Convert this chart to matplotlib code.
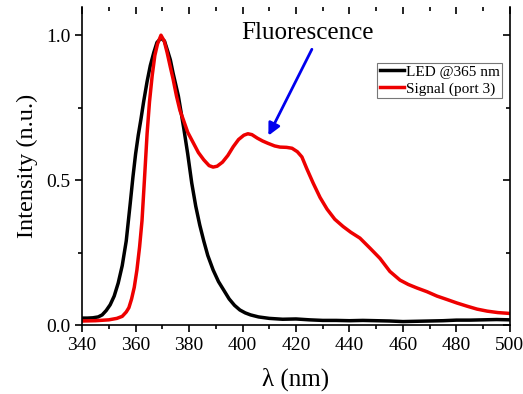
import numpy as np
import matplotlib.pyplot as plt
from matplotlib.ticker import MultipleLocator

plt.rcParams['font.family'] = ['Liberation Serif', 'DejaVu Serif']

# LED @365 nm spectrum
led_wl = [340, 342, 344, 346, 347.5, 349, 350.5, 352, 353.5, 355, 356.5, 358, 359, 360,
          361, 362, 363, 364.3, 365.5, 366.8, 368, 369.5, 370.8, 372, 373, 374, 376, 378,
          379.5, 381, 382.5, 384, 385.5, 387, 389, 391, 393, 395, 397, 399, 401, 403, 406,
          410, 415, 420, 425, 430, 435, 440, 445, 450, 455, 460, 465, 470, 475, 480, 485,
          490, 495, 500]
led_int = [0.024, 0.024, 0.025, 0.028, 0.035, 0.05, 0.07, 0.10, 0.145, 0.205, 0.29, 0.42,
           0.51, 0.59, 0.655, 0.71, 0.77, 0.84, 0.895, 0.94, 0.975, 0.99, 0.98, 0.945,
           0.915, 0.87, 0.79, 0.68, 0.59, 0.49, 0.41, 0.345, 0.29, 0.24, 0.19, 0.15, 0.12,
           0.09, 0.068, 0.052, 0.042, 0.035, 0.028, 0.023, 0.02, 0.021, 0.018, 0.016,
           0.016, 0.015, 0.016, 0.015, 0.014, 0.012, 0.013, 0.014, 0.015, 0.017, 0.017,
           0.018, 0.019, 0.018]

# Signal (port 3) spectrum
sig_wl = [340, 345, 350, 353, 355, 356.5, 357.5, 358.5, 359.5, 360.5, 361.5, 362.4, 363.3,
          364.3, 365.2, 366.2, 367.2, 368.2, 369.5, 370.7, 371.8, 373, 374, 375.3, 376.6,
          377.8, 379.5, 381.5, 383.5, 385.5, 387.5, 389, 390.5, 392.5, 394.5, 396.5, 398.5,
          400.5, 402, 403.5, 405.5, 407.5, 409.5, 412, 414, 416.5, 418.5, 420.5, 422.2,
          424, 426.4, 429, 431.6, 434.5, 437.6, 440.5, 443.9, 447.7, 451.4, 455.1, 458.9,
          462, 465.2, 469, 472.7, 476.5, 480.2, 484, 487.7, 491.5, 495.5, 500]
sig_int = [0.014, 0.015, 0.018, 0.023, 0.03, 0.045, 0.06, 0.09, 0.13, 0.19, 0.27, 0.36,
           0.5, 0.66, 0.77, 0.86, 0.93, 0.97, 1.0, 0.98, 0.94, 0.89, 0.85, 0.79, 0.74,
           0.71, 0.665, 0.63, 0.595, 0.57, 0.55, 0.545, 0.548, 0.562, 0.585, 0.615, 0.64,
           0.655, 0.66, 0.657, 0.645, 0.635, 0.627, 0.618, 0.614, 0.613, 0.61, 0.598, 0.58,
           0.54, 0.49, 0.44, 0.40, 0.365, 0.34, 0.32, 0.30, 0.265, 0.23, 0.185, 0.155,
           0.14, 0.128, 0.115, 0.10, 0.088, 0.076, 0.065, 0.055, 0.048, 0.043, 0.04]

fig = plt.figure(figsize=(5.23, 3.94), dpi=100)
ax = fig.add_axes([0.157, 0.175, 0.818, 0.807])

ax.plot(led_wl, led_int, color='black', lw=2.5, solid_joinstyle='round',
        label='LED @365 nm')
ax.plot(sig_wl, sig_int, color='#ee0000', lw=2.5, solid_joinstyle='round',
        label='Signal (port 3)')

ax.set_xlim(340, 500)
ax.set_ylim(0, 1.097)
ax.xaxis.set_major_locator(MultipleLocator(20))
ax.xaxis.set_minor_locator(MultipleLocator(10))
ax.yaxis.set_major_locator(MultipleLocator(0.5))
ax.yaxis.set_minor_locator(MultipleLocator(0.25))
ax.yaxis.set_major_formatter(plt.FormatStrFormatter('%.1f'))

ax.spines['top'].set_visible(False)
for s in ['left', 'bottom', 'right']:
    ax.spines[s].set_linewidth(1.2)
ax.tick_params(which='both', direction='out', top=True, right=True, labelsize=14, width=1.2)
ax.tick_params(which='major', length=5)
ax.tick_params(which='minor', length=3)
# top and right ticks point inward
for t in ax.xaxis.get_major_ticks() + ax.xaxis.get_minor_ticks():
    t.tick2line.set_marker(3)
for t in ax.yaxis.get_major_ticks() + ax.yaxis.get_minor_ticks():
    t.tick2line.set_marker(0)

ax.set_xlabel('λ (nm)', fontsize=18, labelpad=10)
ax.set_ylabel('Intensity (n.u.)', fontsize=17.5, labelpad=6)

ax.text(424.3, 1.007, 'Fluorescence', fontsize=18, ha='center', va='center')
ax.annotate('', xy=(409.2, 0.645), xytext=(426.4, 0.96),
            arrowprops=dict(arrowstyle='-|>', color='#0000ee', lw=2, mutation_scale=18))

leg = ax.legend(loc='upper left', bbox_to_anchor=(0.69, 0.825), fontsize=11,
                frameon=True, fancybox=False, handlelength=1.6, handletextpad=0.1,
                borderpad=0.15, labelspacing=0.2, borderaxespad=0)
leg.get_frame().set_edgecolor('#555555')
leg.get_frame().set_linewidth(0.8)

fig.savefig('out.png', dpi=100)
